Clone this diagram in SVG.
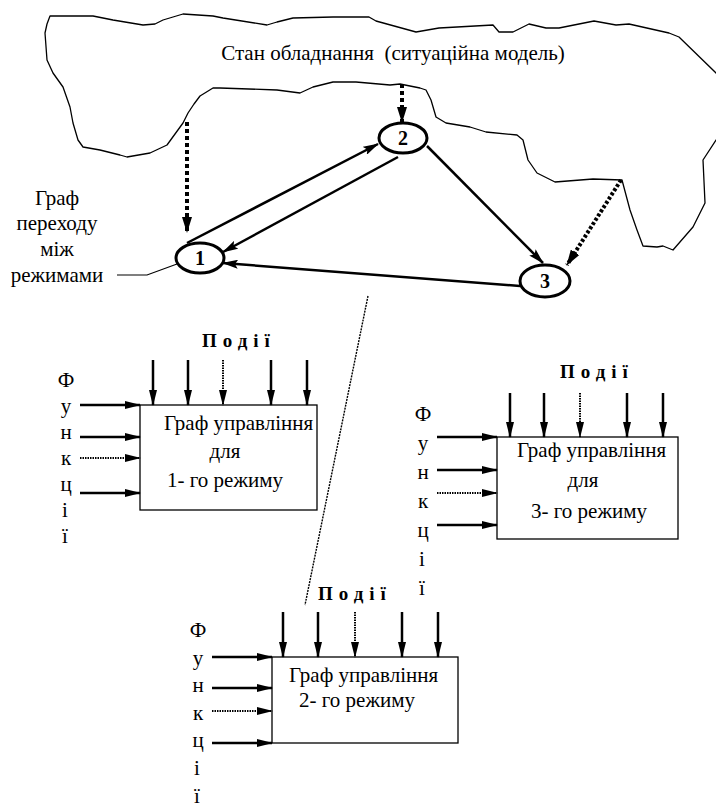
<svg xmlns="http://www.w3.org/2000/svg" width="716" height="812" viewBox="0 0 716 812">
<style>
.t{font-size:21px}
.lbl{font-size:20px;font-weight:bold}
.ev{font-size:19px;font-weight:bold;letter-spacing:6px}
.cloud{fill:none;stroke:#000;stroke-width:1.3;stroke-linejoin:round}
.node{fill:#fff;stroke:#000;stroke-width:3}
.edge{fill:none;stroke:#000;stroke-width:2.5}
.sd{fill:none;stroke:#000;stroke-width:4;stroke-dasharray:4 3}
.sdot{fill:none;stroke:#000;stroke-width:4;stroke-dasharray:3 2}
.box{fill:#fff;stroke:#000;stroke-width:1.3}
.ar{fill:none;stroke:#000;stroke-width:2.5}
.ard{fill:none;stroke:#000;stroke-width:2;stroke-dasharray:1.5 1}
.diag{fill:none;stroke:#000;stroke-width:1.4;stroke-dasharray:2 1}
.thin{fill:none;stroke:#000;stroke-width:1.2}
</style>
<defs>
<marker id="ah" viewBox="0 0 16 9" refX="15" refY="4.5" markerWidth="16" markerHeight="9" markerUnits="userSpaceOnUse" orient="auto"><path d="M0,0 L16,4.5 L0,9 L3,4.5 Z" fill="#000"/></marker>
<marker id="ab" viewBox="0 0 16 8" refX="15" refY="4" markerWidth="16" markerHeight="8" markerUnits="userSpaceOnUse" orient="auto"><path d="M0,0 L16,4 L0,8 Z" fill="#000"/></marker>
<marker id="ad" viewBox="0 0 16 10" refX="15" refY="5" markerWidth="16" markerHeight="10" markerUnits="userSpaceOnUse" orient="auto"><path d="M0,0 L16,5 L0,10 Z" fill="#000"/></marker>
</defs>
<g font-family="Liberation Serif, Times New Roman, Times, serif" fill="#000">

<g id="cloud">
<path class="cloud" d="M50,16 L93,16 L113,20 L143,25 L155,24 L163,20 L183,14 L213,16 L223,18 L267,25 L277,22 L293,18 L333,17 L369,17 L376,21 L416,32 L439,28 L493,25 L499,32 L513,32 L529,24 L546,28 L559,28 L594,21 L616,25 L629,24 L669,33 L679,37 L716,73 L730,90 L730,130 L716,140 L703,160 L705,203 L693,227 L673,250 L663,246 L657,247 L643,246 L637,230 L630,210 L622,180 L593,179 L555,182 L537,173 L528,160 L523,140 L517,135 L486,132 L470,127 L446,123 L436,117 L431,100 L426,90 L420,88 L400,84 L390,85 L356,82 L333,82 L313,87 L300,93 L277,90 L220,88 L213,88 L200,96 L194,104 L188,113 L183,123 L167,145 L150,153 L127,157 L120,155 L100,150 L83,147 L78,140 L73,123 L70,107 L63,87 L53,73 L47,60 L45,33 L47,24 Z"/>
<text class="t" x="393" y="60" text-anchor="middle" xml:space="preserve">Стан обладнання  (ситуаційна модель)</text>
</g>

<g id="label-graph">
<text class="t" x="57" y="205" text-anchor="middle">Граф</text>
<text class="t" x="57" y="230" text-anchor="middle">переходу</text>
<text class="t" x="57" y="256" text-anchor="middle">між</text>
<text class="t" x="57" y="282" text-anchor="middle">режимами</text>
<path class="thin" d="M117,275 L147,275 L177,264"/>
</g>

<g id="connectors">
<line class="edge" x1="187" y1="243" x2="378" y2="144" marker-end="url(#ah)"/>
<line class="edge" x1="398" y1="157" x2="223" y2="252" marker-end="url(#ah)"/>
<line class="edge" x1="427" y1="146" x2="543" y2="263" marker-end="url(#ah)"/>
<line class="edge" x1="520" y1="286" x2="223" y2="263" marker-end="url(#ah)"/>
<line class="sd" x1="187" y1="122" x2="187" y2="232" marker-end="url(#ad)"/>
<line class="sd" x1="402" y1="84" x2="402" y2="122" marker-end="url(#ad)"/>
<line class="sdot" x1="621" y1="180" x2="567" y2="265" marker-end="url(#ad)"/>
<line class="diag" x1="368" y1="296" x2="305" y2="605"/>
</g>

<g id="node1">
<ellipse class="node" cx="200" cy="258" rx="24" ry="15"/>
<text class="lbl" x="200" y="265" text-anchor="middle">1</text>
</g>
<g id="node2">
<ellipse class="node" cx="403" cy="138" rx="24" ry="15"/>
<text class="lbl" x="403" y="145" text-anchor="middle">2</text>
</g>
<g id="node3">
<ellipse class="node" cx="545" cy="281" rx="25" ry="16"/>
<text class="lbl" x="545" y="288" text-anchor="middle">3</text>
</g>

<g id="box1">
<rect class="box" x="140" y="405" width="177" height="105"/>
<text class="t" x="164" y="430">Граф управління</text>
<text class="t" x="225" y="458" text-anchor="middle">для</text>
<text class="t" x="167" y="487">1- го режиму</text>
<text class="ev" x="202" y="347">Події</text>
<line class="ar" x1="153" y1="360" x2="153" y2="405" marker-end="url(#ab)"/>
<line class="ar" x1="188" y1="360" x2="188" y2="405" marker-end="url(#ab)"/>
<line class="ard" x1="223" y1="360" x2="223" y2="405" marker-end="url(#ab)"/>
<line class="ar" x1="271" y1="360" x2="271" y2="405" marker-end="url(#ab)"/>
<line class="ar" x1="307" y1="360" x2="307" y2="405" marker-end="url(#ab)"/>
<line class="ar" x1="80" y1="405" x2="140" y2="405" marker-end="url(#ab)"/>
<line class="ar" x1="80" y1="437" x2="140" y2="437" marker-end="url(#ab)"/>
<line class="ard" x1="80" y1="458" x2="140" y2="458" marker-end="url(#ab)"/>
<line class="ar" x1="80" y1="493" x2="140" y2="493" marker-end="url(#ab)"/>
<g class="t" text-anchor="middle">
<text x="66" y="387">Ф</text><text x="66" y="413">у</text><text x="66" y="439">н</text><text x="66" y="465">к</text><text x="66" y="491">ц</text><text x="65" y="517">і</text><text x="65" y="543">ї</text>
</g>
</g>

<g id="box3">
<rect class="box" x="497" y="437" width="181" height="102"/>
<text class="t" x="517" y="457">Граф управління</text>
<text class="t" x="583" y="487" text-anchor="middle">для</text>
<text class="t" x="531" y="518">3- го режиму</text>
<text class="ev" x="560" y="378">Події</text>
<line class="ar" x1="510" y1="393" x2="510" y2="437" marker-end="url(#ab)"/>
<line class="ar" x1="544" y1="393" x2="544" y2="437" marker-end="url(#ab)"/>
<line class="ard" x1="580" y1="393" x2="580" y2="437" marker-end="url(#ab)"/>
<line class="ar" x1="627" y1="393" x2="627" y2="437" marker-end="url(#ab)"/>
<line class="ar" x1="663" y1="393" x2="663" y2="437" marker-end="url(#ab)"/>
<line class="ar" x1="437" y1="437" x2="497" y2="437" marker-end="url(#ab)"/>
<line class="ar" x1="437" y1="470" x2="497" y2="470" marker-end="url(#ab)"/>
<line class="ard" x1="437" y1="493" x2="497" y2="493" marker-end="url(#ab)"/>
<line class="ar" x1="437" y1="525" x2="497" y2="525" marker-end="url(#ab)"/>
<g class="t" text-anchor="middle">
<text x="423" y="421">Ф</text><text x="423" y="450">у</text><text x="423" y="479">н</text><text x="423" y="508">к</text><text x="423" y="537">ц</text><text x="422" y="566">і</text><text x="422" y="595">ї</text>
</g>
</g>

<g id="box2">
<rect class="box" x="272" y="657" width="186" height="86"/>
<text class="t" x="289" y="682">Граф управління</text>
<text class="t" x="299" y="707">2- го режиму</text>
<text class="ev" x="318" y="600">Події</text>
<line class="ar" x1="283" y1="612" x2="283" y2="657" marker-end="url(#ab)"/>
<line class="ar" x1="318" y1="612" x2="318" y2="657" marker-end="url(#ab)"/>
<line class="ard" x1="355" y1="612" x2="355" y2="657" marker-end="url(#ab)"/>
<line class="ar" x1="402" y1="612" x2="402" y2="657" marker-end="url(#ab)"/>
<line class="ar" x1="438" y1="612" x2="438" y2="657" marker-end="url(#ab)"/>
<line class="ar" x1="212" y1="657" x2="272" y2="657" marker-end="url(#ab)"/>
<line class="ar" x1="212" y1="688" x2="272" y2="688" marker-end="url(#ab)"/>
<line class="ard" x1="212" y1="711" x2="272" y2="711" marker-end="url(#ab)"/>
<line class="ar" x1="212" y1="743" x2="272" y2="743" marker-end="url(#ab)"/>
<g class="t" text-anchor="middle">
<text x="198" y="637">Ф</text><text x="198" y="665">у</text><text x="198" y="692">н</text><text x="198" y="720">к</text><text x="198" y="747">ц</text><text x="197" y="775">і</text><text x="197" y="803">ї</text>
</g>
</g>
</g>
</svg>
